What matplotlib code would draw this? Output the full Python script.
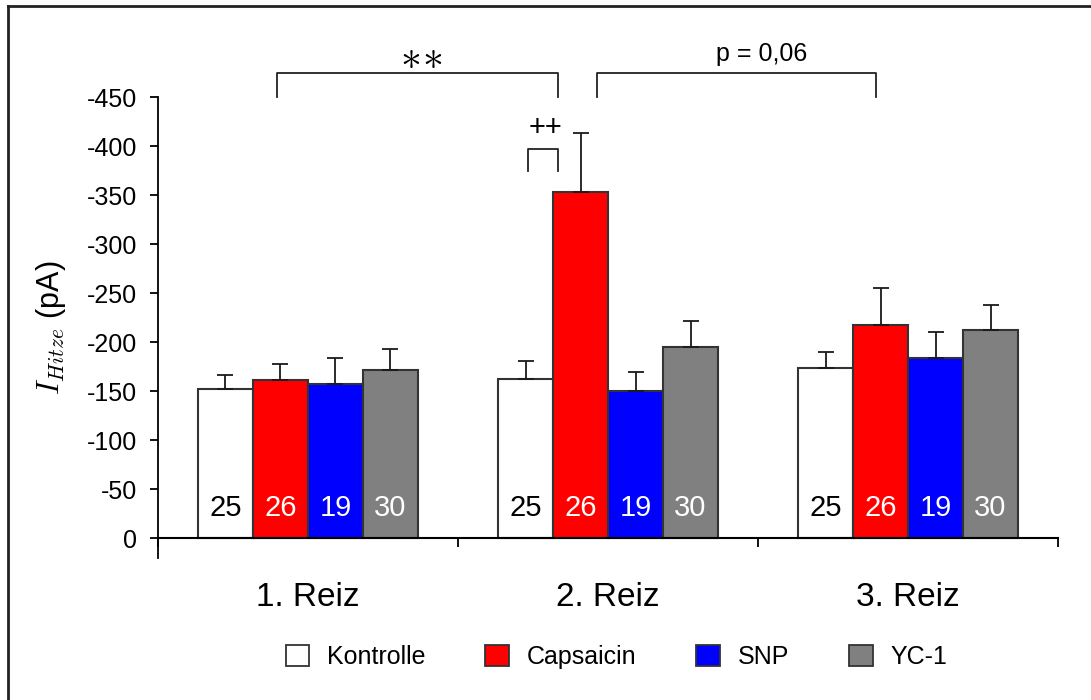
import matplotlib
matplotlib.use("Agg")
import matplotlib.pyplot as plt
import matplotlib.patches as mpatches
from matplotlib.lines import Line2D
import numpy as np

plt.rcParams["font.family"] = ["Liberation Sans", "DejaVu Sans"]
plt.rcParams["mathtext.fontset"] = "cm"
plt.rcParams["axes.unicode_minus"] = False

# ── Daten ────────────────────────────────────────────────────
groups = ["1. Reiz", "2. Reiz", "3. Reiz"]
series = ["Kontrolle", "Capsaicin", "SNP", "YC-1"]
colors = ["white", "#ff0000", "#0000ff", "#808080"]
n_cells = [25, 26, 19, 30]

kontrolle = [-152, -162, -174]
kontrolle_err = [14, 19, 16]
capsaicin = [-161, -353, -217]
capsaicin_err = [17, 60, 38]
snp = [-157, -150, -184]
snp_err = [27, 19, 26]
yc1 = [-171, -195, -212]
yc1_err = [22, 26, 26]

values = [kontrolle, capsaicin, snp, yc1]
errors = [kontrolle_err, capsaicin_err, snp_err, yc1_err]
yticks = [0, -50, -100, -150, -200, -250, -300, -350, -400, -450]

# ── Plot ─────────────────────────────────────────────────────
fig = plt.figure(figsize=(10.91, 7.0), dpi=100)
ax = fig.add_axes([0.1448, 0.2034, 0.825, 0.658])

x = np.arange(len(groups))
w = 55 / 300
edge = "#333333"

for i, (vals, errs, col) in enumerate(zip(values, errors, colors)):
    xi = x + (i - 1.5) * w
    ax.bar(xi, vals, width=w, color=col, edgecolor=edge, linewidth=1.5, zorder=2)
    ax.errorbar(xi, vals, yerr=[errs, np.zeros(len(errs))], fmt="none",
                ecolor="#1a1a1a", elinewidth=1.3, capsize=5.8, capthick=1.3, zorder=3)
    txt_col = "black" if col == "white" else "white"
    for xx in xi:
        ax.text(xx, -31, str(n_cells[i]), ha="center", va="center",
                fontsize=21, color=txt_col, zorder=4)

ax.set_xlim(-0.5, 2.5)
ax.set_ylim(20, -450)
ax.set_yticks(yticks)
ax.set_yticklabels([str(v) for v in yticks])
ax.tick_params(axis="y", direction="out", length=5.8, width=1.3, labelsize=18, pad=9)

ax.spines["top"].set_visible(False)
ax.spines["right"].set_visible(False)
ax.spines["left"].set_linewidth(1.3)
ax.spines["bottom"].set_linewidth(1.5)
ax.spines["bottom"].set_position(("data", 0))

ax.set_xticks([-0.5, 0.5, 1.5, 2.5])
ax.set_xticklabels([])
ax.tick_params(axis="x", which="major", direction="out", length=6.5, width=1.3)
ax.set_xticks(x, minor=True)
ax.set_xticklabels(groups, minor=True, fontsize=24)
ax.tick_params(axis="x", which="minor", length=0, pad=32)

ax.set_ylabel(r"$I_{Hitze}$ (pA)", fontsize=22)
ax.yaxis.set_label_coords(-0.10, 0.5)

# Signifikanz-Klammern
br = dict(color="#222222", linewidth=1.3, clip_on=False)
ax.plot([-0.103, -0.103, 0.833, 0.833], [-450, -475, -475, -450], **br)
ax.plot([0.963, 0.963, 1.893, 1.893], [-450, -475, -475, -450], **br)
ax.plot([0.733, 0.733, 0.833, 0.833], [-374, -397, -397, -374], **br)
ax.text(0.377, -491, r"$\ast\!\ast$", ha="center", va="center", fontsize=30)
ax.text(1.513, -494, "p = 0,06", ha="center", va="center", fontsize=18)
ax.text(0.79, -418, "++", ha="center", va="center", fontsize=21)

# Legende
handles = [mpatches.Patch(facecolor=c, edgecolor=edge, linewidth=1.3, label=s)
           for c, s in zip(colors, series)]
fig.legend(handles=handles, loc="center", bbox_to_anchor=(0.565, 1 - 657 / 700),
           ncol=4, frameon=False, fontsize=18, handlelength=0.95, handleheight=0.95,
           handletextpad=0.7, columnspacing=2.4)

# Rahmen (links und oben)
fig.add_artist(Line2D([8 / 1091, 8 / 1091], [0, 1 - 5.5 / 700],
                      transform=fig.transFigure, color="#222222", linewidth=2))
fig.add_artist(Line2D([8 / 1091, 1], [1 - 5.5 / 700, 1 - 5.5 / 700],
                      transform=fig.transFigure, color="#222222", linewidth=2))

fig.savefig("out.png", dpi=100)
